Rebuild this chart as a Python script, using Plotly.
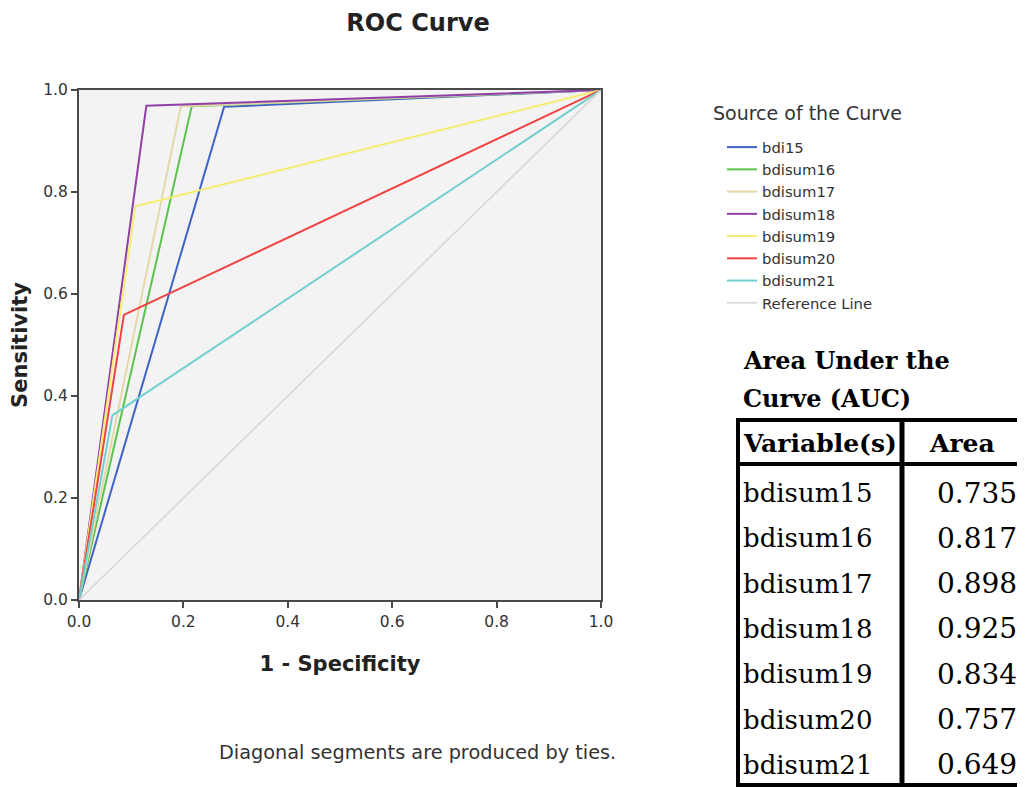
import plotly.graph_objects as go

W, H = 1025, 787
OFF = 8  # default page margin around the plot
FW, FH = W - OFF, H - OFF

# ---- data ----
series_names = ["bdi15", "bdisum16", "bdisum17", "bdisum18", "bdisum19", "bdisum20", "bdisum21"]
fpr_points = [
    [0.0, 0.278, 1.0],
    [0.0, 0.216, 1.0],
    [0.0, 0.195, 1.0],
    [0.0, 0.129, 1.0],
    [0.0, 0.108, 1.0],
    [0.0, 0.086, 1.0],
    [0.0, 0.064, 1.0],
]
tpr_points = [
    [0.0, 0.967, 1.0],
    [0.0, 0.968, 1.0],
    [0.0, 0.968, 1.0],
    [0.0, 0.969, 1.0],
    [0.0, 0.772, 1.0],
    [0.0, 0.559, 1.0],
    [0.0, 0.362, 1.0],
]
series_colors = ["#3f63c6", "#5cc24e", "#e4d8aa", "#9040a8", "#f6ee72", "#f04343", "#72cfcf"]
ref_x = [0.0, 1.0]
ref_y = [0.0, 1.0]

auc_vars = ["bdisum15", "bdisum16", "bdisum17", "bdisum18", "bdisum19", "bdisum20", "bdisum21"]
auc_vals = ["0.735", "0.817", "0.898", "0.925", "0.834", "0.757", "0.649"]
tick_vals = [0.0, 0.2, 0.4, 0.6, 0.8, 1.0]


# ---- helpers: screen pixel -> paper fraction ----
def px(x):
    return (x - OFF) / FW


def py(y):
    return 1 - (y - OFF) / FH


sans = "DejaVu Sans, Liberation Sans, Arial"
serif = "DejaVu Serif, Liberation Serif, serif"

fig = go.Figure()
for name, xs, ys, col in zip(series_names, fpr_points, tpr_points, series_colors):
    fig.add_trace(go.Scatter(x=xs, y=ys, mode="lines", name=name,
                             line=dict(color=col, width=2)))
fig.add_trace(go.Scatter(x=ref_x, y=ref_y, mode="lines", name="Reference Line",
                         line=dict(color="#d6d6d6", width=1.5)))

axis_common = dict(range=[0, 1], tickvals=tick_vals, tickformat=".1f", automargin=False,
                   showgrid=False, zeroline=False, showline=True, linecolor="#4a4a4a",
                   linewidth=2, mirror=True, ticks="outside", ticklen=6, tickwidth=2,
                   tickcolor="#4a4a4a",
                   tickfont=dict(family=sans, size=15.5, color="#333"))

fig.update_layout(
    width=FW, height=FH,
    margin=dict(l=0, r=0, t=0, b=0),
    paper_bgcolor="white",
    plot_bgcolor="#f3f3f3",
    showlegend=True,
    xaxis=dict(domain=[px(79), px(601)],
               title=dict(text="<b>1 - Specificity</b>", standoff=27,
                          font=dict(family=sans, size=21, color="#222")),
               **axis_common),
    yaxis=dict(domain=[py(600), py(90)],
               title=dict(text="<b>Sensitivity</b>", standoff=14,
                          font=dict(family=sans, size=21, color="#222")),
               **axis_common),
    title=dict(text="<b>ROC Curve</b>", x=px(418), xanchor="center", y=py(23), yanchor="middle",
               font=dict(family=sans, size=24, color="#222")),
    legend=dict(x=px(722), y=py(131), xanchor="left", yanchor="top",
                bgcolor="rgba(0,0,0,0)",
                font=dict(family=sans, size=14.8, color="#333"),
                tracegroupgap=0, itemwidth=30),
)

# legend heading
fig.add_annotation(text="Source of the Curve", xref="paper", yref="paper",
                   x=px(711), y=py(113), xanchor="left", yanchor="middle", showarrow=False,
                   font=dict(family=sans, size=19, color="#333"))

fig.add_annotation(text="Diagonal segments are produced by ties.", xref="paper", yref="paper",
                   x=px(417), y=py(752), xanchor="center", yanchor="middle", showarrow=False,
                   font=dict(family=sans, size=19.3, color="#333"))

# ---- AUC table ----
fig.add_annotation(text="<b>Area Under the</b>", xref="paper", yref="paper", x=px(741), y=py(360),
                   xanchor="left", yanchor="middle", showarrow=False,
                   font=dict(family=serif, size=24, color="black"))
fig.add_annotation(text="<b>Curve (AUC)</b>", xref="paper", yref="paper", x=px(741), y=py(398),
                   xanchor="left", yanchor="middle", showarrow=False,
                   font=dict(family=serif, size=24, color="black"))

tbl_left, tbl_mid, tbl_right = 738, 902, 1022
tbl_top, hdr_bot, tbl_bot = 420, 464, 785
line = dict(color="black", width=4)
fig.add_shape(type="rect", xref="paper", yref="paper", x0=px(tbl_left), x1=px(tbl_right),
              y0=py(tbl_bot), y1=py(tbl_top), line=line, fillcolor="rgba(0,0,0,0)")
fig.add_shape(type="line", xref="paper", yref="paper", x0=px(tbl_mid), x1=px(tbl_mid),
              y0=py(tbl_bot), y1=py(tbl_top), line=dict(color="black", width=5))
fig.add_shape(type="line", xref="paper", yref="paper", x0=px(tbl_left), x1=px(tbl_right),
              y0=py(hdr_bot), y1=py(hdr_bot), line=line)

fig.add_annotation(text="<b>Variable(s)</b>", xref="paper", yref="paper",
                   x=px((tbl_left + tbl_mid) / 2), y=py(443), xanchor="center", yanchor="middle",
                   showarrow=False, font=dict(family=serif, size=25, color="black"))
fig.add_annotation(text="<b>Area</b>", xref="paper", yref="paper",
                   x=px((tbl_mid + tbl_right) / 2), y=py(443), xanchor="center", yanchor="middle",
                   showarrow=False, font=dict(family=serif, size=25, color="black"))

row0, row_h = 493, 45.3
for i, (v, a) in enumerate(zip(auc_vars, auc_vals)):
    yc = row0 + i * row_h
    fig.add_annotation(text=v, xref="paper", yref="paper", x=px(741), y=py(yc),
                       xanchor="left", yanchor="middle", showarrow=False,
                       font=dict(family=serif, size=26, color="black"))
    fig.add_annotation(text=a, xref="paper", yref="paper", x=px(1019), y=py(yc),
                       xanchor="right", yanchor="middle", showarrow=False,
                       font=dict(family=serif, size=28, color="black"))

fig.write_html("out.html")
